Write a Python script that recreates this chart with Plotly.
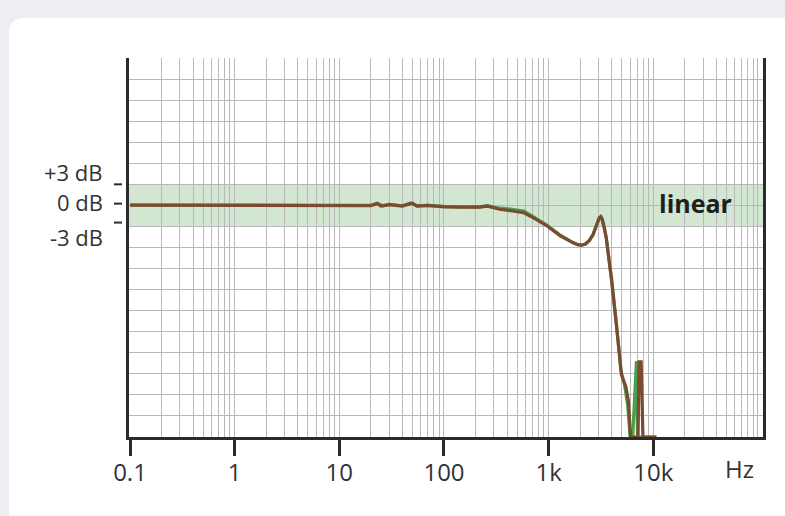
import plotly.graph_objects as go

# ---- data ----
freq_brown = [0.1, 1, 10, 20, 23, 25, 30, 40, 50, 55, 70, 100, 150, 220, 260, 300, 340,
              450, 580, 710, 960, 1280, 1500, 1700, 1900, 2060, 2250, 2450, 2650, 2800,
              2950, 3050, 3150, 3250, 3400, 3550, 3750, 4000, 4450, 4970, 5460, 5770, 6070,
              7150, 7300, 7650, 7960, 10700]
db_brown = [0.05, 0.05, 0.0, -0.05, 0.25, -0.1, 0.1, -0.1, 0.3, -0.1, 0.0, -0.2, -0.25, -0.25,
            -0.1, -0.3, -0.55, -0.8, -1.05, -1.75, -2.9, -4.3, -4.9, -5.3, -5.6, -5.65, -5.5,
            -5.0, -4.2, -3.2, -2.2, -1.75, -1.6, -2.0, -3.2, -4.6, -7.5, -10.8, -17.2, -24.2,
            -25.8, -27.8, -33, -33, -22.3, -22.3, -33, -33]

freq_green = [0.1, 1, 10, 20, 23, 26, 30, 40, 48, 55, 70, 100, 150, 220, 260, 300, 340,
              450, 580, 710, 960, 1280, 1500, 1700, 1900, 2060, 2250, 2450, 2650, 2800,
              2950, 3050, 3150, 3250, 3400, 3550, 3750, 4000, 4450, 4900, 5300, 5700, 6000,
              6350, 6900, 7060, 10700]
db_green = [0.05, 0.05, 0.0, 0.0, 0.3, -0.05, 0.15, -0.05, 0.35, -0.05, 0.0, -0.15, -0.2, -0.2,
            -0.05, -0.25, -0.4, -0.55, -0.8, -1.6, -2.8, -4.2, -4.85, -5.3, -5.6, -5.65, -5.5,
            -5.0, -4.2, -3.2, -2.2, -1.75, -1.6, -2.0, -3.2, -4.6, -7.3, -10.5, -17.0, -23.5,
            -25.5, -28.5, -33, -33, -22.2, -33, -33]

x_tickvals = [0.1, 1, 10, 100, 1000, 10000]
x_ticktext = ["0.1", "1", "10", "100", "1k", "10k"]
x_minor = [m * 10 ** e for e in range(-1, 5) for m in range(2, 10)] + [100000]

y_labels = ["+3 dB", "0 dB", "-3 dB"]
y_label_pos = [4.8, 0.45, -4.5]
y_dash_pos = [3.0, 0.25, -2.45]

band_low, band_high = -3, 3

FONT = "Open Sans"
DARK = "#2b2b2b"
GRID = "#b8b8b8"

fig = go.Figure()
fig.add_trace(go.Scatter(x=freq_green, y=db_green, mode="lines",
                         line=dict(color="#47a04a", width=3.2), showlegend=False))
fig.add_trace(go.Scatter(x=freq_brown, y=db_brown, mode="lines",
                         line=dict(color="#7b4a30", width=3.2), showlegend=False))

# card background (white rounded panel on grey page)
x0, yt, rx, ry = -0.1893, 1.1055, 0.0237, 0.0396
xr, yb = 1.1, -0.3
fig.add_shape(type="path", xref="paper", yref="paper", layer="below",
              path=f"M {x0},{yb} L {x0},{yt-ry} Q {x0},{yt} {x0+rx},{yt} L {xr},{yt} L {xr},{yb} Z",
              fillcolor="white", line=dict(width=0))
# linear band
fig.add_shape(type="rect", xref="paper", yref="y", x0=0, x1=1, y0=band_low, y1=band_high,
              fillcolor="#d3e6d2", line=dict(width=0), layer="below")

for yd in y_dash_pos:
    fig.add_shape(type="line", xref="paper", yref="y", x0=-0.0237, x1=-0.011, y0=yd, y1=yd,
                  line=dict(color=DARK, width=2))

for txt, yp in zip(y_labels, y_label_pos):
    fig.add_annotation(text=txt, xref="paper", yref="y", x=-0.038, y=yp,
                       xanchor="right", yanchor="middle", showarrow=False,
                       font=dict(family=FONT, size=22, color="#333333"))

fig.add_annotation(text="Hz", xref="paper", yref="paper", x=0.9637, y=-0.0844,
                   xanchor="center", yanchor="middle", showarrow=False,
                   font=dict(family=FONT, size=24, color="#333333"))
fig.add_annotation(text="<b>linear</b>", xref="paper", yref="y", x=0.893, y=0.3,
                   xanchor="center", yanchor="middle", showarrow=False,
                   font=dict(family=FONT, size=25, color="#1e1e1e"))

fig.update_xaxes(type="log", range=[-1.0096, 5.048],
                 tickmode="array", tickvals=x_tickvals, ticktext=x_ticktext,
                 ticks="outside", ticklen=16, tickwidth=3, tickcolor=DARK,
                 ticklabelstandoff=-4,
                 tickfont=dict(family=FONT, size=24, color="#333333"),
                 showgrid=True, gridcolor=GRID, gridwidth=1,
                 minor=dict(tickvals=x_minor, showgrid=True, gridcolor=GRID, gridwidth=1, ticks=""),
                 showline=True, linecolor=DARK, linewidth=3, mirror=False, zeroline=False)
fig.update_yaxes(range=[-33, 21], tick0=0, dtick=3, showticklabels=False, ticks="",
                 showgrid=True, gridcolor=GRID, gridwidth=1,
                 showline=True, linecolor=DARK, linewidth=3, mirror=True, zeroline=False)

fig.update_layout(width=785, height=516,
                  margin=dict(l=129, r=22, t=58, b=79),
                  paper_bgcolor="#eceef1", plot_bgcolor="rgba(0,0,0,0)",
                  showlegend=False)

fig.write_html("out.html", config={"displayModeBar": False},
               post_script="document.body.style.margin='0';document.body.style.background='#eceef1';")
